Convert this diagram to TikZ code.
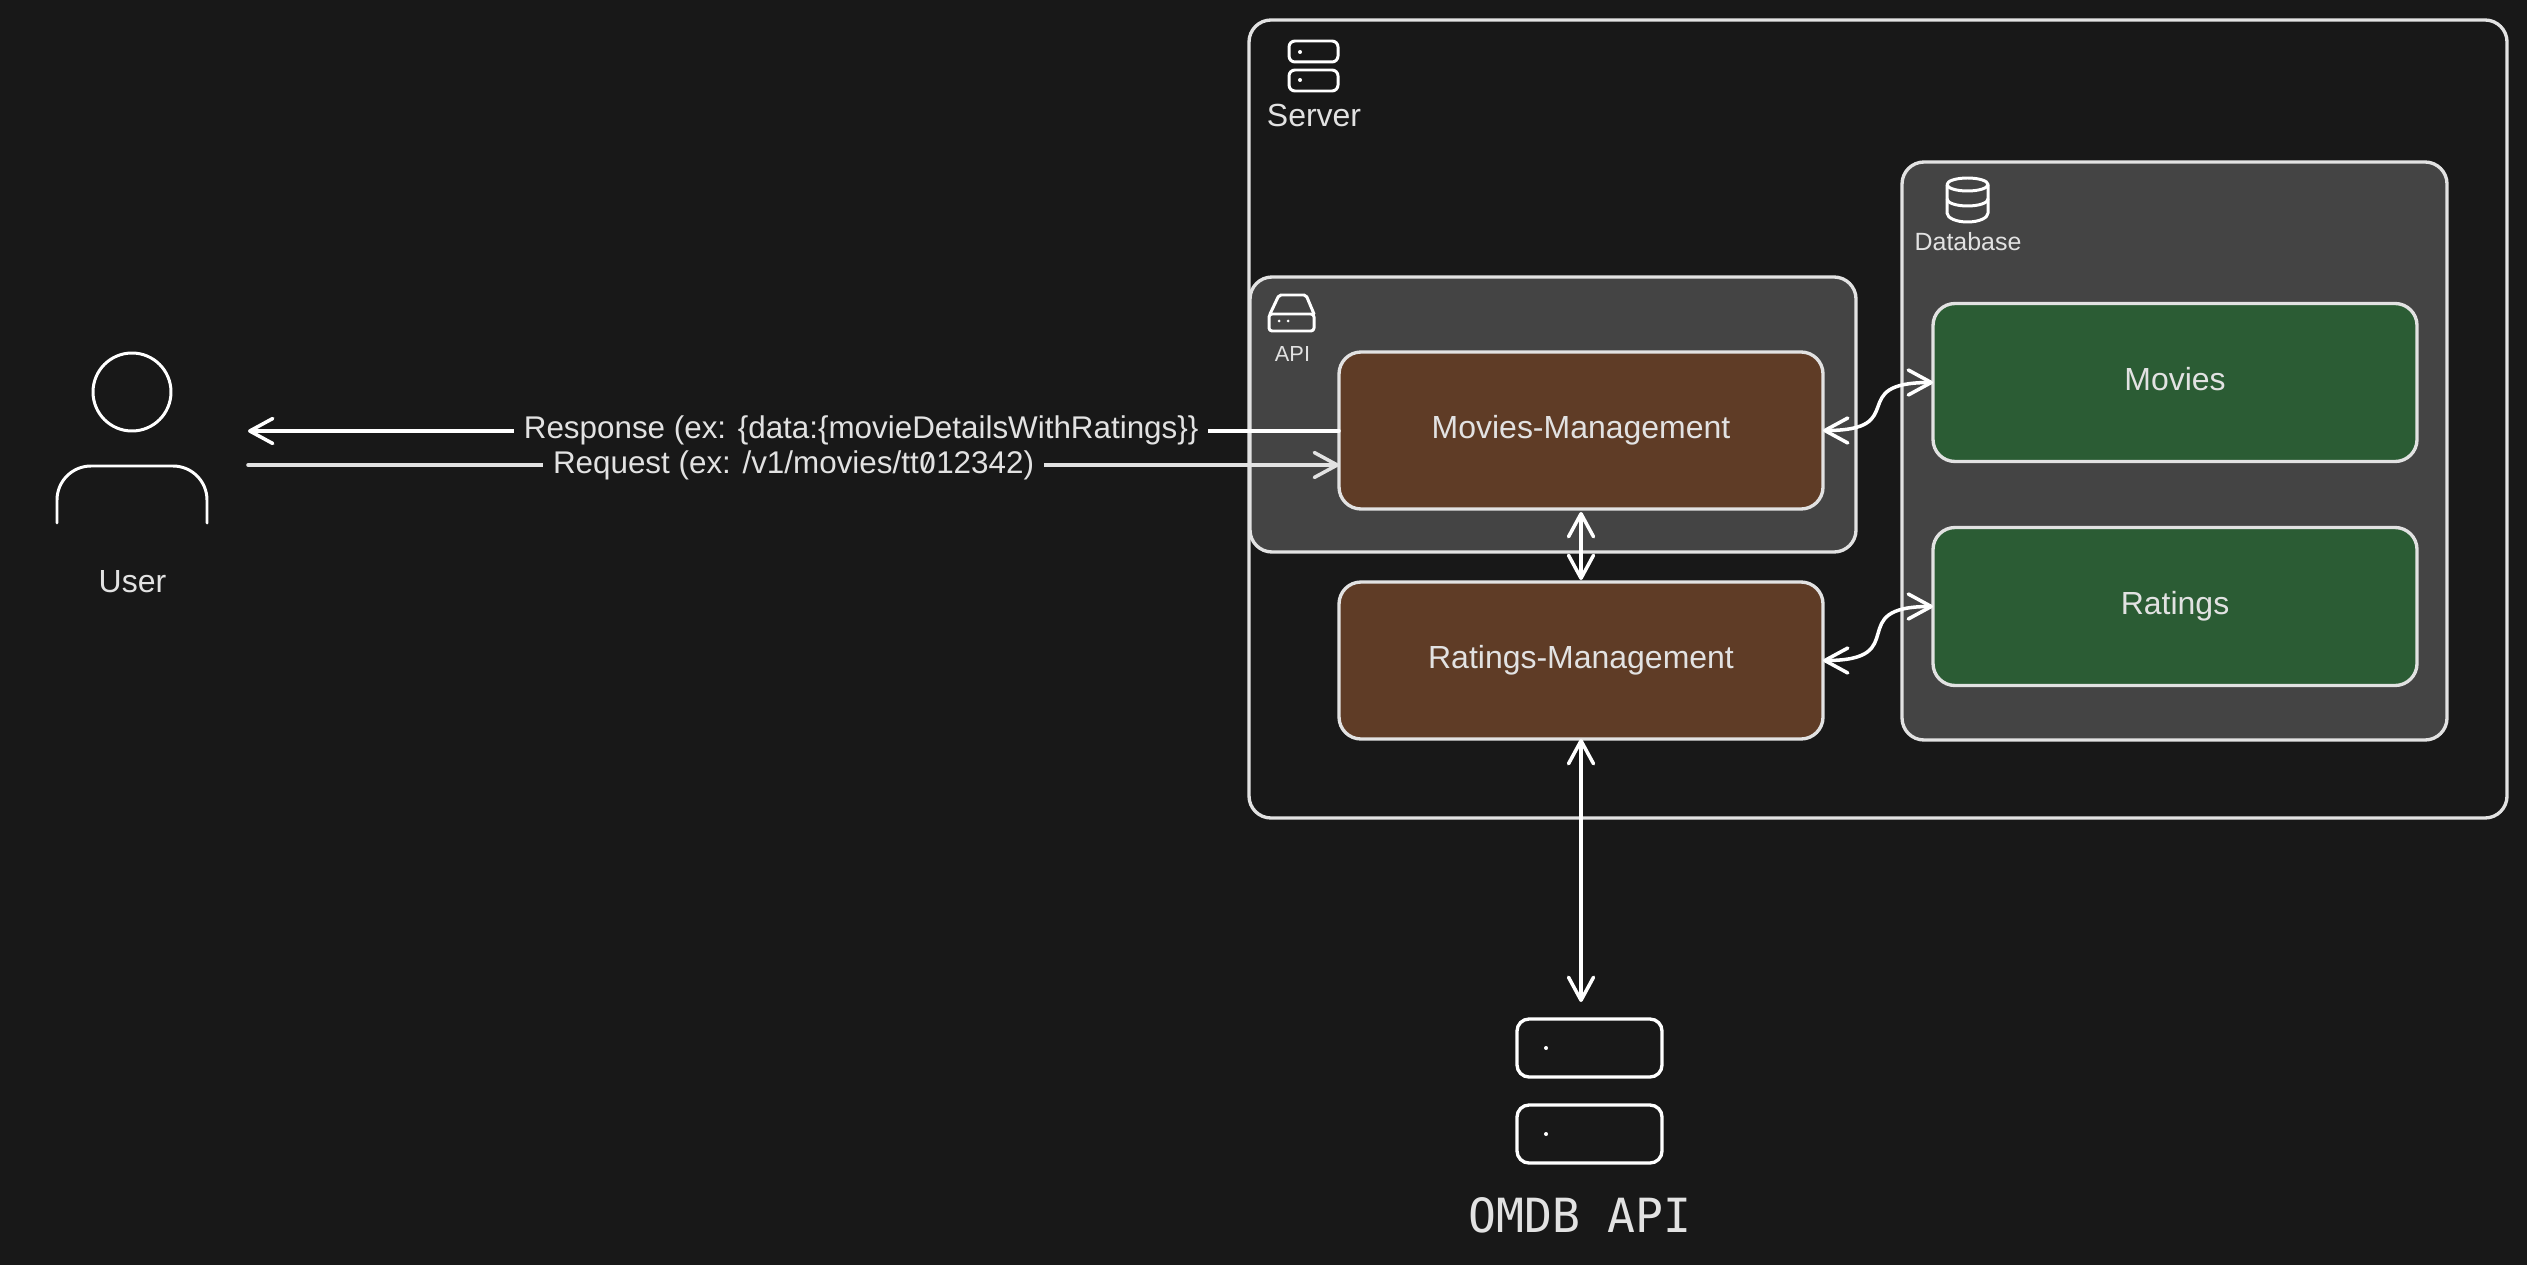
\documentclass[tikz,border=0pt]{standalone}
\usepackage{fontspec}
\setmainfont{Liberation Sans}
\newfontfamily\zerofont[RawFeature=+zero]{Fira Sans}
\newfontfamily\apifont[FakeStretch=0.985]{DejaVu Sans Mono}
\usetikzlibrary{arrows.meta, positioning}
\definecolor{canvas}{HTML}{181818}
\definecolor{edge}{HTML}{E2E2E2}
\definecolor{panelgray}{HTML}{444444}
\definecolor{modbrown}{HTML}{5F3C26}
\definecolor{tablegreen}{HTML}{2B5C34}
\tikzstyle{box} = [rectangle, rounded corners=0.22cm, outer sep=0pt, draw=edge, line width=0.95pt, text=edge, text centered, font=\fontsize{9.1}{11}\selectfont, text height=0.23cm, text depth=0.07cm]
\tikzstyle{panel} = [box, fill=panelgray]
\tikzstyle{module} = [box, fill=modbrown, minimum width=4.84cm, minimum height=1.57cm]
\tikzstyle{table} = [box, fill=tablegreen, minimum width=4.84cm, minimum height=1.58cm]
\tikzstyle{caption} = [text=edge, anchor=base, inner sep=0pt, font=\fontsize{9.1}{11}\selectfont]
\tikzstyle{icon} = [draw=white, line width=0.85pt, line join=round, line cap=round]
\tikzstyle{dot} = [circle, fill=white, inner sep=0pt, minimum size=0.04cm]
\tikzstyle{arrow} = [white, line width=1pt, line cap=round, >={Straight Barb[length=0.23cm,width=0.25cm,round]}]
\tikzstyle{edgelabel} = [fill=canvas, text=edge, inner xsep=0.1cm, inner ysep=0pt, font=\fontsize{8.93}{11}\selectfont, text height=0.23cm, text depth=0.07cm]

\begin{document}
\begin{tikzpicture}

\path [fill=canvas, use as bounding box] (0,0) rectangle (25.27,-12.65);

% --- Containers ---
\node (Server) [box, minimum width=12.58cm, minimum height=7.98cm] at (18.78,-4.19) {};
\node (Api) [panel, minimum width=6.06cm, minimum height=2.75cm] at (15.53,-4.145) {};
\node (Database) [panel, minimum width=5.45cm, minimum height=5.78cm] at (21.745,-4.51) {};

% --- Modules ---
\node (Movies) [module] at (15.81,-4.305) {Movies-Management};
\node (Ratings) [module, below=0.73cm of Movies] {Ratings-Management};

% --- Tables ---
\node (MoviesTable) [table] at (21.75,-3.825) {Movies};
\node (RatingsTable) [table, below=0.66cm of MoviesTable] {Ratings};

% --- Server icon ---
\draw [icon, rounded corners=0.06cm] (12.89,-0.41) rectangle (13.38,-0.62);
\draw [icon, rounded corners=0.06cm] (12.89,-0.70) rectangle (13.38,-0.91);
\node (ServerDotA) [dot] at (13.00,-0.52) {};
\node (ServerDotB) [dot] at (13.00,-0.80) {};
\node (ServerLabel) [caption] at (13.14,-1.27) {Server};

% --- API icon ---
\draw [icon, rounded corners=0.03cm] (12.69,-3.14) rectangle (13.14,-3.31);
\draw [icon, rounded corners=0.02cm] (12.70,-3.14) -- (12.79,-2.95) -- (13.06,-2.95) -- (13.14,-3.14);
\node (ApiDotA) [dot, minimum size=0.03cm] at (12.79,-3.21) {};
\node (ApiDotB) [dot, minimum size=0.03cm] at (12.88,-3.21) {};
\node (ApiLabel) [caption, font=\fontsize{6.2}{8}\selectfont] at (12.925,-3.62) {API};

% --- Database icon ---
\draw [icon] (19.675,-1.845) ellipse [x radius=0.205cm, y radius=0.065cm];
\draw [icon] (19.47,-1.85) -- (19.47,-2.13) arc [start angle=180, end angle=360, x radius=0.205cm, y radius=0.09cm] -- (19.88,-1.85);
\draw [icon] (19.47,-1.99) arc [start angle=180, end angle=360, x radius=0.205cm, y radius=0.07cm];
\node (DatabaseLabel) [caption, font=\fontsize{7.1}{9}\selectfont] at (19.68,-2.51) {Database};

% --- User ---
\node (UserHead) [circle, icon, minimum size=0.78cm, inner sep=0pt] at (1.32,-3.92) {};
\draw [icon, rounded corners=0.34cm] (0.57,-5.23) -- (0.57,-4.66) -- (2.07,-4.66) -- (2.07,-5.23);
\node (UserLabel) [caption] at (1.325,-5.92) {User};

% --- OMDB API ---
\node (OmdbTop) [box, draw=white, rounded corners=0.12cm, minimum width=1.45cm, minimum height=0.58cm] at (15.895,-10.48) {};
\node (OmdbBottom) [box, draw=white, rounded corners=0.12cm, minimum width=1.45cm, minimum height=0.58cm, below=0.28cm of OmdbTop] {};
\node (OmdbDotA) [dot] at (15.46,-10.48) {};
\node (OmdbDotB) [dot] at (15.46,-11.34) {};
\node (OmdbLabel) [caption, font=\fontsize{13.4}{16}\apifont] at (15.80,-12.32) {OMDB API};

% --- Arrows ---
\coordinate (ResponseEnd) at (2.48,-4.31);
\coordinate (RequestStart) at (2.48,-4.65);
\draw [arrow, ->] (Movies.west |- ResponseEnd) -- (ResponseEnd)
    node [edgelabel, pos=0.438] {Response (ex: \{data:\{movieDetailsWithRatings\}\}};
\draw [arrow, edge, ->] (RequestStart) -- (Movies.west |- RequestStart)
    node [edgelabel, midway] {Request (ex: /v1/movies/tt{\zerofont 0}12342)};
\draw [arrow, <->, shorten <=0.03cm, shorten >=0.02cm] (Movies.south) -- (Ratings.north);
\draw [arrow, <->, shorten >=0.17cm] (Ratings.south) -- (Ratings.south |- OmdbTop.north);
\draw [arrow, <->] (Movies.east) to [out=0, in=180, looseness=1.9] (MoviesTable.west);
\draw [arrow, <->] (Ratings.east) to [out=0, in=180, looseness=1.9] (RatingsTable.west);

\end{tikzpicture}
\end{document}
